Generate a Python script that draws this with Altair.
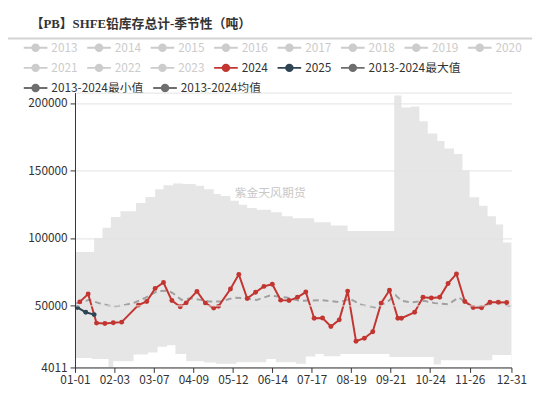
import altair as alt
import pandas as pd

FONT = "Noto Sans CJK SC"
TITLE_FONT = "Liberation Serif, Noto Sans CJK SC"

# ---- data (tonnes) ----
d2024_dates = ["01-05", "01-12", "01-19", "01-26", "02-02", "02-09", "02-23", "03-01", "03-08", "03-15",
               "03-22", "03-29", "04-03", "04-12", "04-19", "04-26", "04-30", "05-10", "05-17", "05-24",
               "05-31", "06-07", "06-14", "06-21", "06-28", "07-05", "07-12", "07-19", "07-26", "08-02",
               "08-09", "08-16", "08-23", "08-30", "09-06", "09-13", "09-20", "09-27", "09-30", "10-11",
               "10-18", "10-25", "11-01", "11-08", "11-15", "11-22", "11-29", "12-06", "12-13", "12-20",
               "12-27"]
d2024_vals = [52600, 58450, 36900, 36600, 37100, 37600, 50200, 52900, 62600, 67000,
              53600, 49000, 51900, 60400, 51700, 48000, 49300, 62100, 73000, 55100,
              59700, 64100, 65700, 53900, 53600, 56000, 59900, 40500, 40700, 34400,
              39300, 60600, 23500, 25700, 30500, 51700, 61200, 40500, 40500, 44900,
              56000, 55500, 56000, 66300, 73300, 52900, 48500, 48300, 52400, 52400,
              52200]

d2025_dates = ["01-03", "01-10", "01-17"]
d2025_vals = [48500, 44900, 43200]

mean_dates = ["01-02", "01-13", "01-21", "01-29", "02-04", "02-12", "02-20", "02-28", "03-10", "03-19",
              "03-23", "03-30", "04-07", "04-15", "04-22", "05-02", "05-13", "05-21", "06-01", "06-12",
              "06-26", "07-07", "07-26", "08-09", "08-18", "08-28", "09-08", "09-18", "09-25", "09-30",
              "10-08", "10-19", "10-28", "11-08", "11-17", "11-24", "11-30", "12-11", "12-19", "12-30"]
mean_vals = [51500, 54100, 51700, 50000, 49300, 50400, 52200, 55300, 60600, 60900,
             59000, 54100, 55300, 54100, 52900, 52900, 55800, 55300, 54100, 57300,
             55800, 53400, 53900, 52400, 54800, 50400, 48500, 52400, 57700, 53400,
             52200, 53400, 51700, 50900, 55800, 51700, 48500, 50400, 52400, 49300]

max_dates = ["01-01", "01-17", "01-24", "01-31", "02-08", "02-21", "02-29", "03-08", "03-15", "03-23",
             "03-31", "04-11", "04-18", "04-26", "05-02", "05-10", "05-17", "05-24", "06-01", "06-13",
             "06-22", "07-01", "07-19", "08-02", "08-16", "09-24", "09-30", "10-08", "10-15", "10-22",
             "10-30", "11-05", "11-13", "11-20", "11-26", "12-04", "12-11", "12-18", "12-24", "12-31"]
max_vals = [89500, 99800, 107600, 115600, 119700, 125800, 130400, 136000, 139100, 140400,
            139900, 138600, 136000, 132600, 131100, 127500, 124600, 122200, 120900, 119000,
            116000, 114500, 111700, 109300, 105100, 205500, 196700, 197400, 186500, 177300,
            171900, 166300, 162200, 150000, 130200, 123900, 116000, 110000, 96600, 96600]

min_dates = ["01-01", "01-15", "01-29", "02-02", "02-19", "03-02", "03-10", "03-18", "03-25", "04-03",
             "04-18", "04-28", "05-15", "06-09", "06-17", "07-04", "07-12", "07-20", "07-27", "08-10",
             "09-20", "10-27", "11-02", "12-15", "12-31"]
min_vals = [11000, 10300, 4011, 8700, 13600, 15200, 19400, 20500, 14000, 8700,
            7700, 6700, 7900, 10300, 7900, 6700, 12100, 14000, 12300, 14000,
            11700, 6300, 9300, 13300, 13300]

x_tick_labels = ["01-01", "02-03", "03-07", "04-09", "05-12", "06-14", "07-17", "08-19",
                 "09-21", "10-24", "11-26", "12-31"]
y_ticks = [4011, 50000, 100000, 150000, 200000]
y_min, y_max = 4011, 207700

# legend, one list per legend row (as wrapped in the reference)
legend_rows = [
    ["2013", "2014", "2015", "2016", "2017", "2018", "2019", "2020"],
    ["2021", "2022", "2023", "2024", "2025", "2013-2024最大值"],
    ["2013-2024最小值", "2013-2024均值"],
]
legend_row_colors = [
    ["#cccccc"] * 8,
    ["#cccccc", "#cccccc", "#cccccc", "#c23531", "#2f4554", "#6e6e6e"],
    ["#6e6e6e", "#6e6e6e"],
]
inactive_items = ["2013", "2014", "2015", "2016", "2017", "2018", "2019", "2020",
                  "2021", "2022", "2023"]

title_text = "【PB】SHFE铅库存总计-季节性（吨）"
watermark = "紫金天风期货"

YEAR = "2024"  # leap-year calendar used for the month-day axis


def frame(dates, vals):
    return pd.DataFrame({"date": [f"{YEAR}-{d}T00:00:00" for d in dates], "value": vals})


df2024 = frame(d2024_dates, d2024_vals)
df2025 = frame(d2025_dates, d2025_vals)
dfmean = frame(mean_dates, mean_vals)
dfmax = frame(max_dates, max_vals)
dfmin = frame(min_dates, min_vals)


def dt(mmdd):
    return alt.DateTime(year=int(YEAR), month=int(mmdd[:2]), date=int(mmdd[3:]))


X = alt.X(
    "date:T",
    scale=alt.Scale(domain=[dt("01-01"), dt("12-31")], nice=False),
    axis=alt.Axis(
        values=[dt(s) for s in x_tick_labels], format="%m-%d", title=None,
        labelFlush=False, labelOverlap=False, grid=False,
        domainColor="#333333", tickColor="#333333", tickSize=5,
        labelColor="#333333", labelFont=FONT, labelFontSize=12, labelPadding=2,
        zindex=1,
    ),
)
Y = alt.Y(
    "value:Q",
    scale=alt.Scale(domain=[y_min, y_max], zero=False, nice=False),
    axis=alt.Axis(
        values=y_ticks + [y_max], format="d", title=None,
        labelExpr=f"datum.value > {y_ticks[-1]} ? '' : datum.label",
        grid=True, gridColor="#e3e3e3",
        domainColor="#333333",
        tickColor={"condition": {"test": f"datum.value > {y_ticks[-1]}", "value": "transparent"},
                   "value": "#333333"},
        tickSize=5, labelColor="#333333", labelFont=FONT, labelFontSize=12, labelPadding=3,
        zindex=1,
    ),
)

max_area = alt.Chart(dfmax).mark_area(interpolate="step-after", color="#e6e6e6", opacity=1).encode(
    x=X, y=Y, y2=alt.datum(y_min))
min_area = alt.Chart(dfmin).mark_area(interpolate="step-after", color="#ffffff", opacity=1).encode(
    x=X, y=Y, y2=alt.datum(y_min))
mean_line = alt.Chart(dfmean).mark_line(color="#a0a0a0", strokeWidth=2, strokeDash=[6, 4]).encode(
    x=X, y=Y)
line2024 = alt.Chart(df2024).mark_line(
    color="#c23531", strokeWidth=2,
    point=alt.OverlayMarkDef(filled=True, size=25, color="#c23531", opacity=1)).encode(x=X, y=Y)
line2025 = alt.Chart(df2025).mark_line(
    color="#2f4554", strokeWidth=2,
    point=alt.OverlayMarkDef(filled=True, size=25, color="#2f4554", opacity=1)).encode(x=X, y=Y)

SYMBOL = ("M-1.333,-0.111H1.333V0.111H-1.333Z "
          "M-0.478,0A0.478,0.478,0,1,1,0.478,0A0.478,0.478,0,1,1,-0.478,0Z")
inactive_js = "[" + ",".join(f"'{s}'" for s in inactive_items) + "]"
label_color = alt.ExprRef(f"indexof({inactive_js}, datum.label) >= 0 ? '#cccccc' : '#333333'")

legend_layers = []
for i, (row, cols) in enumerate(zip(legend_rows, legend_row_colors)):
    legend_layers.append(
        alt.Chart(pd.DataFrame({"item": row})).mark_circle(opacity=0).encode(
            x=alt.value(0), y=alt.value(0),
            color=alt.Color(
                "item:N",
                scale=alt.Scale(domain=row, range=cols),
                legend=alt.Legend(
                    title=None, orient="none", legendX=-49, legendY=-54.5 + i * 20.4,
                    direction="horizontal", symbolType=SYMBOL, symbolSize=324,
                    symbolStrokeWidth=0, symbolOffset=0, symbolOpacity=1,
                    labelOffset=7, columnPadding=9.4, padding=0,
                    labelFont=FONT, labelFontSize=12, labelLimit=300, labelColor=label_color,
                ),
            ),
        )
    )

sep = alt.Chart(pd.DataFrame({"k": [0]})).mark_rule(color="#d4d4d4", strokeWidth=2).encode(
    x=alt.value(-68), x2=alt.value(464), y=alt.value(-55))

wm = alt.Chart(pd.DataFrame({"t": [watermark]})).mark_text(
    font=FONT, fontSize=12, color="#c8c8c8").encode(
    text="t:N", x=alt.value(198), y=alt.value(102))

chart = alt.layer(max_area, min_area, mean_line, line2024, line2025, wm, sep, *legend_layers).properties(
    width=443, height=279,
    padding={"left": 68, "top": 83, "right": 31, "bottom": 20},
    autosize=alt.AutoSizeParams(type="none"),
    background="white",
    title=alt.TitleParams(text=title_text, anchor="start", frame="group", font=TITLE_FONT,
                          fontSize=13, fontWeight="bold", color="#333333", offset=7, dx=-45),
).resolve_scale(color="independent").configure_view(stroke=None)

chart.save("out.html", embed_options={"renderer": "svg", "actions": False})
